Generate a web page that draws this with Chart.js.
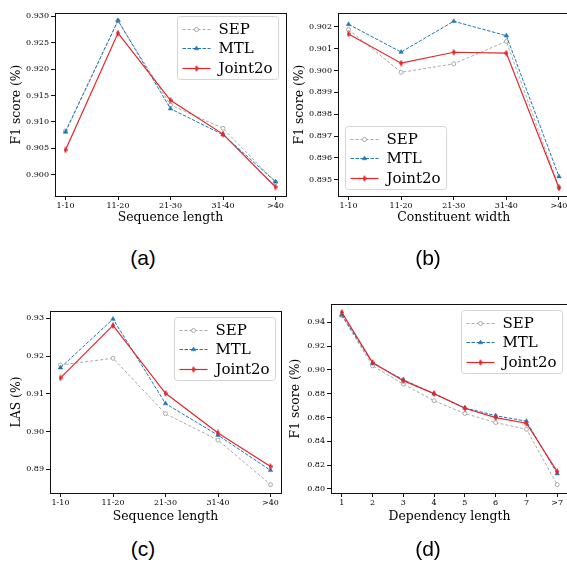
<!DOCTYPE html>
<html>
<head>
<meta charset="utf-8">
<script src="https://cdn.jsdelivr.net/npm/chart.js@4.4.0/dist/chart.umd.min.js"></script>
<style>
  html, body { margin: 0; padding: 0; background: #fff; overflow: hidden; }
  #page { position: relative; width: 567px; height: 564px; overflow: hidden; background: #fff; }
  #page canvas { position: absolute; }
  .cap { position: absolute; font: 21px "Liberation Sans", Arial, sans-serif; color: #000;
         transform: translate(-50%, -50%); white-space: nowrap; }
</style>
</head>
<body>
<div id="page">
  <canvas id="chartA" width="300" height="240" style="left:0px;top:0px"></canvas>
  <canvas id="chartB" width="300" height="240" style="left:285px;top:0px"></canvas>
  <canvas id="chartC" width="300" height="240" style="left:0px;top:290px"></canvas>
  <canvas id="chartD" width="300" height="240" style="left:285px;top:290px"></canvas>
  <div class="cap" style="left:143px;top:258px">(a)</div>
  <div class="cap" style="left:428px;top:258px">(b)</div>
  <div class="cap" style="left:143px;top:549px">(c)</div>
  <div class="cap" style="left:428px;top:549px">(d)</div>
</div>
<script>
// ---- data ----
const lengthCats = ['1-10', '11-20', '21-30', '31-40', '>40'];
const depCats = ['1', '2', '3', '4', '5', '6', '7', '>7'];

// (a) sequence length, F1
const sepA = [0.9083, 0.9291, 0.9132, 0.9088, 0.8986];
const mtlA = [0.9081, 0.9292, 0.9125, 0.9076, 0.8987];
const jointA = [0.9047, 0.9268, 0.9141, 0.9077, 0.8977];
const ticksA = [0.900, 0.905, 0.910, 0.915, 0.920, 0.925, 0.930];

// (b) constituent width, F1
const sepB = [0.90188, 0.89992, 0.90031, 0.90134, 0.89465];
const mtlB = [0.90212, 0.90085, 0.90226, 0.90160, 0.89514];
const jointB = [0.90168, 0.90034, 0.90084, 0.90080, 0.89462];
const ticksB = [0.895, 0.896, 0.897, 0.898, 0.899, 0.900, 0.901, 0.902];

// (c) sequence length, LAS
const sepC = [0.9176, 0.9194, 0.9047, 0.8977, 0.8859];
const mtlC = [0.9169, 0.9298, 0.9074, 0.8990, 0.8897];
const jointC = [0.9142, 0.9281, 0.9101, 0.8996, 0.8907];
const ticksC = [0.89, 0.90, 0.91, 0.92, 0.93];

// (d) dependency length, F1
const sepD = [0.9455, 0.9034, 0.8881, 0.8741, 0.8634, 0.8558, 0.8501, 0.8036];
const mtlD = [0.9462, 0.9056, 0.8918, 0.8800, 0.8681, 0.8616, 0.8569, 0.8129];
const jointD = [0.9484, 0.9062, 0.8910, 0.8801, 0.8678, 0.8600, 0.8552, 0.8146];
const ticksD = [0.80, 0.82, 0.84, 0.86, 0.88, 0.90, 0.92, 0.94];

const SERIF = "'DejaVu Serif', serif";
const GREY = '#a9a9a9', BLUE = '#1f77b4', RED = '#e3262b';

// thin diamond marker for Joint2o
const thinDiamond = document.createElement('canvas');
thinDiamond.width = 4; thinDiamond.height = 7;
(function() {
    const c = thinDiamond.getContext('2d');
    c.fillStyle = RED;
    c.beginPath();
    c.moveTo(2, 0); c.lineTo(4, 3.5); c.lineTo(2, 7); c.lineTo(0, 3.5);
    c.closePath(); c.fill();
})();

// frame + boxed legend, matplotlib style
const framePlugin = {
    id: 'framePlugin',
    afterDraw(chart, args, opts) {
        const ctx = chart.ctx, a = chart.chartArea;
        ctx.save();
        ctx.strokeStyle = '#111';
        ctx.lineWidth = 1;
        ctx.strokeRect(Math.round(a.left) + 0.5, Math.round(a.top) + 0.5,
                       Math.round(a.right - a.left), Math.round(a.bottom - a.top));

        // legend
        const sets = chart.data.datasets;
        ctx.font = '15px ' + SERIF;
        const tw = Math.max(...sets.map(d => ctx.measureText(d.label).width));
        const w = 41 + tw + 6, h = 63;
        let x = opts.corner === 'ur' ? a.right - opts.dx - w : a.left + opts.dx;
        let y = opts.corner === 'll' ? a.bottom - opts.dy - h : a.top + opts.dy;
        x = Math.round(x) + 0.5; y = Math.round(y) + 0.5;
        ctx.beginPath();
        if (ctx.roundRect) ctx.roundRect(x, y, w, h, 3); else ctx.rect(x, y, w, h);
        ctx.fillStyle = 'rgba(255,255,255,0.8)';
        ctx.fill();
        ctx.strokeStyle = '#d4d4d4';
        ctx.stroke();

        sets.forEach((d, i) => {
            const cy = Math.round(y + 12 + i * 19.5) + 0.5;
            ctx.setLineDash(d.borderDash || []);
            ctx.strokeStyle = d.borderColor;
            ctx.lineWidth = d.borderWidth;
            ctx.beginPath();
            ctx.moveTo(x + 5, cy); ctx.lineTo(x + 33, cy);
            ctx.stroke();
            ctx.setLineDash([]);
            ctx.fillStyle = d.pointBackgroundColor;
            ctx.strokeStyle = d.pointBorderColor;
            ctx.lineWidth = d.pointBorderWidth;
            Chart.helpers.drawPoint(ctx, {
                pointStyle: d.pointStyle, radius: d.pointRadius,
                borderWidth: d.pointBorderWidth, rotation: 0
            }, x + 19, cy);
            ctx.fillStyle = '#000';
            ctx.textAlign = 'left';
            ctx.textBaseline = 'middle';
            ctx.fillText(d.label, x + 41, cy + 1);
        });
        ctx.restore();
    }
};

function toXY(vals) {
    return vals.map((v, i) => ({ x: i, y: v }));
}

function makePanel(p) {
    const el = document.getElementById(p.id);
    const cl = parseFloat(el.style.left), ct = parseFloat(el.style.top);
    const xH = 34, titleSize = 12.4, lh = titleSize * 1.2;
    const yW = p.area.left - cl;
    const pad = {
        left: 0,
        top: p.area.top - ct,
        right: cl + el.width - p.area.right,
        bottom: ct + el.height - p.area.bottom - xH
    };

    new Chart(el, {
        type: 'line',
        data: {
            datasets: [
                {
                    label: 'SEP', data: toXY(p.sep), order: 3,
                    borderColor: GREY, borderWidth: 1, borderDash: [3, 2],
                    pointStyle: 'circle', pointRadius: 2,
                    pointBackgroundColor: '#fff', pointBorderColor: GREY, pointBorderWidth: 1
                },
                {
                    label: 'MTL', data: toXY(p.mtl), order: 2,
                    borderColor: BLUE, borderWidth: 1, borderDash: [3.5, 1.5],
                    pointStyle: 'triangle', pointRadius: 2.6,
                    pointBackgroundColor: BLUE, pointBorderColor: BLUE, pointBorderWidth: 0.5
                },
                {
                    label: 'Joint2o', data: toXY(p.joint), order: 1,
                    borderColor: RED, borderWidth: 1.2,
                    pointStyle: thinDiamond, pointRadius: 3,
                    pointBackgroundColor: RED, pointBorderColor: RED, pointBorderWidth: 0
                }
            ]
        },
        options: {
            responsive: false,
            animation: false,
            events: [],
            layout: { padding: pad },
            elements: { line: { tension: 0 } },
            plugins: {
                legend: { display: false },
                tooltip: { enabled: false },
                framePlugin: p.legend
            },
            scales: {
                x: {
                    type: 'linear',
                    min: p.xRange[0], max: p.xRange[1],
                    afterBuildTicks: s => { s.ticks = p.cats.map((c, i) => ({ value: i })); },
                    afterFit: s => { s.height = xH; },
                    ticks: {
                        callback: v => p.cats[v],
                        font: { family: SERIF, size: 8 },
                        color: '#000', padding: 1,
                        autoSkip: false, maxRotation: 0
                    },
                    grid: { drawOnChartArea: false, drawTicks: true, tickLength: 4, color: '#111' },
                    border: { display: false },
                    title: {
                        display: true, text: p.xTitle, color: '#000',
                        font: { family: SERIF, size: titleSize },
                        padding: { top: 0, bottom: p.area.bottom + xH - p.xTitleY - lh / 2 }
                    }
                },
                y: {
                    type: 'linear',
                    min: p.yRange[0], max: p.yRange[1],
                    afterBuildTicks: s => { s.ticks = p.yTicks.map(v => ({ value: v })); },
                    afterFit: s => { s.width = yW; },
                    ticks: {
                        callback: v => v.toFixed(p.dec),
                        font: { family: SERIF, size: 8 },
                        color: '#000', padding: 2
                    },
                    grid: { drawOnChartArea: false, drawTicks: true, tickLength: 4, color: '#111' },
                    border: { display: false },
                    title: {
                        display: true, text: p.yTitle, color: '#000',
                        font: { family: SERIF, size: titleSize },
                        padding: { top: p.yTitleX - cl - lh / 2, bottom: 0 }
                    }
                }
            }
        },
        plugins: [framePlugin]
    });
}

makePanel({
    id: 'chartA', cats: lengthCats, sep: sepA, mtl: mtlA, joint: jointA,
    yTicks: ticksA, dec: 3, xRange: [-0.2, 4.2], yRange: [0.8960, 0.9306],
    area: { left: 55, top: 13, right: 286, bottom: 196 },
    xTitle: 'Sequence length', yTitle: 'F1 score (%)', xTitleY: 218, yTitleX: 17,
    legend: { corner: 'ur', dx: 8, dy: 3 }
});

makePanel({
    id: 'chartB', cats: lengthCats, sep: sepB, mtl: mtlB, joint: jointB,
    yTicks: ticksB, dec: 3, xRange: [-0.2, 4.2], yRange: [0.89425, 0.90264],
    area: { left: 338, top: 13, right: 569.5, bottom: 196 },
    xTitle: 'Constituent width', yTitle: 'F1 score (%)', xTitleY: 218, yTitleX: 300,
    legend: { corner: 'll', dx: 7, dy: 7 }
});

makePanel({
    id: 'chartC', cats: lengthCats, sep: sepC, mtl: mtlC, joint: jointC,
    yTicks: ticksC, dec: 2, xRange: [-0.2, 4.2], yRange: [0.88368, 0.93193],
    area: { left: 50, top: 311, right: 281, bottom: 493 },
    xTitle: 'Sequence length', yTitle: 'LAS (%)', xTitleY: 517, yTitleX: 17,
    legend: { corner: 'ur', dx: 6, dy: 6 }
});

makePanel({
    id: 'chartD', cats: depCats, sep: sepD, mtl: mtlD, joint: jointD,
    yTicks: ticksD, dec: 2, xRange: [-0.35, 7.35], yRange: [0.7966, 0.9554],
    area: { left: 331, top: 304, right: 568, bottom: 493 },
    xTitle: 'Dependency length', yTitle: 'F1 score (%)', xTitleY: 517, yTitleX: 296,
    legend: { corner: 'ur', dx: 6, dy: 6 }
});
</script>
</body>
</html>
